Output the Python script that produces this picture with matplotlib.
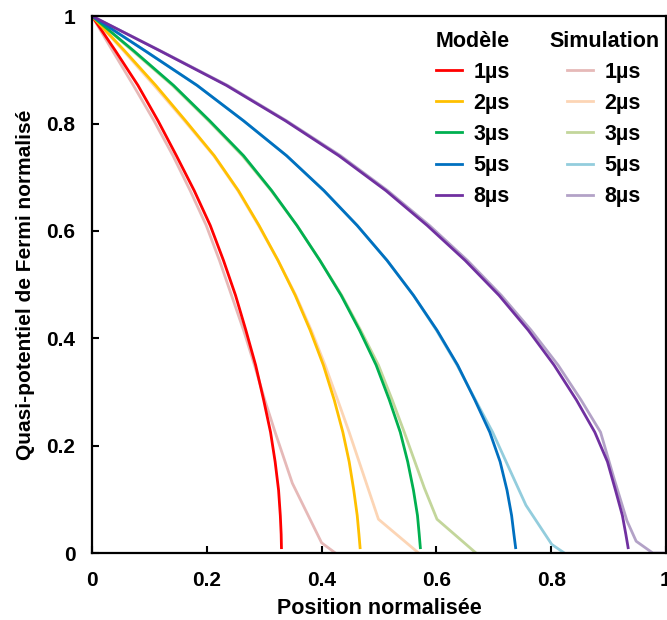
import numpy as np
import matplotlib
matplotlib.use('Agg')
import matplotlib.pyplot as plt

plt.rcParams['font.family'] = ['Liberation Sans', 'DejaVu Sans']
plt.rcParams['font.weight'] = 'bold'

# Modèle curves
mod_y = [1, 0.935, 0.871, 0.805, 0.74, 0.675, 0.61, 0.545, 0.48, 0.415, 0.35, 0.285, 0.225, 0.17, 0.117, 0.07, 0.035, 0.01]
mod_1_x = [0, 0.041, 0.080, 0.115, 0.147, 0.178, 0.206, 0.229, 0.250, 0.268, 0.285, 0.299, 0.311, 0.319, 0.325, 0.328, 0.3295, 0.330]
mod_2_x = [0, 0.057, 0.111, 0.163, 0.213, 0.255, 0.291, 0.324, 0.354, 0.380, 0.403, 0.422, 0.437, 0.448, 0.456, 0.462, 0.465, 0.467]
mod_3_x = [0, 0.073, 0.142, 0.205, 0.264, 0.313, 0.357, 0.397, 0.434, 0.466, 0.495, 0.518, 0.537, 0.550, 0.560, 0.567, 0.570, 0.572]
mod_5_x = [0, 0.093, 0.183, 0.264, 0.339, 0.404, 0.462, 0.514, 0.560, 0.601, 0.637, 0.667, 0.693, 0.711, 0.723, 0.731, 0.735, 0.738]
mod_8_x = [0, 0.119, 0.234, 0.337, 0.430, 0.512, 0.584, 0.650, 0.709, 0.760, 0.805, 0.844, 0.876, 0.898, 0.912, 0.924, 0.930, 0.934]

# Simulation curves
sim_1_x = [0, 0.036, 0.072, 0.108, 0.141, 0.171, 0.199, 0.222, 0.243, 0.264, 0.283, 0.301, 0.319, 0.349, 0.400, 0.424]
sim_1_y = [1, 0.935, 0.871, 0.805, 0.74, 0.675, 0.61, 0.545, 0.48, 0.415, 0.35, 0.285, 0.225, 0.130, 0.019, 0.0]
sim_2_x = [0, 0.055, 0.108, 0.161, 0.212, 0.254, 0.290, 0.324, 0.355, 0.382, 0.406, 0.428, 0.448, 0.499, 0.569]
sim_2_y = [1, 0.935, 0.871, 0.805, 0.74, 0.675, 0.61, 0.545, 0.48, 0.415, 0.35, 0.285, 0.225, 0.063, 0.0]
sim_3_x = [0, 0.071, 0.140, 0.203, 0.262, 0.312, 0.357, 0.397, 0.435, 0.468, 0.499, 0.523, 0.544, 0.579, 0.601, 0.669]
sim_3_y = [1, 0.935, 0.871, 0.805, 0.74, 0.675, 0.61, 0.545, 0.48, 0.415, 0.35, 0.285, 0.225, 0.121, 0.063, 0.0]
sim_5_x = [0, 0.093, 0.183, 0.264, 0.339, 0.404, 0.462, 0.514, 0.560, 0.600, 0.636, 0.668, 0.698, 0.756, 0.801, 0.823]
sim_5_y = [1, 0.935, 0.871, 0.805, 0.74, 0.675, 0.61, 0.545, 0.48, 0.415, 0.35, 0.285, 0.225, 0.089, 0.016, 0.0]
sim_8_x = [0, 0.120, 0.236, 0.339, 0.433, 0.515, 0.588, 0.654, 0.713, 0.765, 0.812, 0.852, 0.886, 0.910, 0.932, 0.948, 0.977, 0.995]
sim_8_y = [1, 0.935, 0.871, 0.805, 0.74, 0.675, 0.61, 0.545, 0.48, 0.415, 0.35, 0.285, 0.225, 0.137, 0.060, 0.022, 0.0, 0.0]

labels = ['1µs', '2µs', '3µs', '5µs', '8µs']
mod_colors = ['#FF0000', '#FFC000', '#00B050', '#0070C0', '#7030A0']
sim_colors = ['#E6B9B8', '#FCD5B5', '#C3D69B', '#93CDDD', '#B3A2C7']
ticks = [0, 0.2, 0.4, 0.6, 0.8, 1]
tick_labels = ['0', '0.2', '0.4', '0.6', '0.8', '1']

mod_x = [mod_1_x, mod_2_x, mod_3_x, mod_5_x, mod_8_x]
sim_x = [sim_1_x, sim_2_x, sim_3_x, sim_5_x, sim_8_x]
sim_y = [sim_1_y, sim_2_y, sim_3_y, sim_5_y, sim_8_y]

fig = plt.figure(figsize=(6.67, 6.2), dpi=100)
ax = fig.add_axes([0.138, 0.108, 0.8605, 0.866])

sim_lines = []
for xs, ys, c, lab in zip(sim_x, sim_y, sim_colors, labels):
    ln, = ax.plot(xs, ys, color=c, lw=2, label=lab)
    sim_lines.append(ln)
mod_lines = []
for xs, c, lab in zip(mod_x, mod_colors, labels):
    ln, = ax.plot(xs, mod_y, color=c, lw=2, label=lab)
    mod_lines.append(ln)

ax.set_xlim(0, 1)
ax.set_ylim(0, 1)
ax.set_xticks(ticks)
ax.set_xticklabels(tick_labels)
ax.set_yticks(ticks)
ax.set_yticklabels(tick_labels)
ax.tick_params(direction='in', length=5, width=1.5, labelsize=15, pad=12)
ax.tick_params(axis='x', pad=13)
for sp in ax.spines.values():
    sp.set_linewidth(1.6)

ax.set_xlabel('Position normalisée', fontsize=15.5, fontweight='bold', labelpad=6)
ax.set_ylabel('Quasi-potentiel de Fermi normalisé', fontsize=15, fontweight='bold', labelpad=8)

leg_kw = dict(frameon=False, fontsize=15.5, handlelength=1.2, handletextpad=0.55,
              labelspacing=0.47, borderpad=0, borderaxespad=0, loc='upper center',
              title_fontproperties={'weight': 'bold', 'size': 15.5})
leg1 = ax.legend(mod_lines, labels, title='Modèle',
                 bbox_to_anchor=(473 / 667, 1 - 31 / 620), bbox_transform=fig.transFigure, **leg_kw)
ax.add_artist(leg1)
leg2 = ax.legend(sim_lines, labels, title='Simulation',
                 bbox_to_anchor=(604 / 667, 1 - 31 / 620), bbox_transform=fig.transFigure, **leg_kw)
for leg in (leg1, leg2):
    leg._legend_box.sep = 7

fig.savefig('out.png', dpi=100)
